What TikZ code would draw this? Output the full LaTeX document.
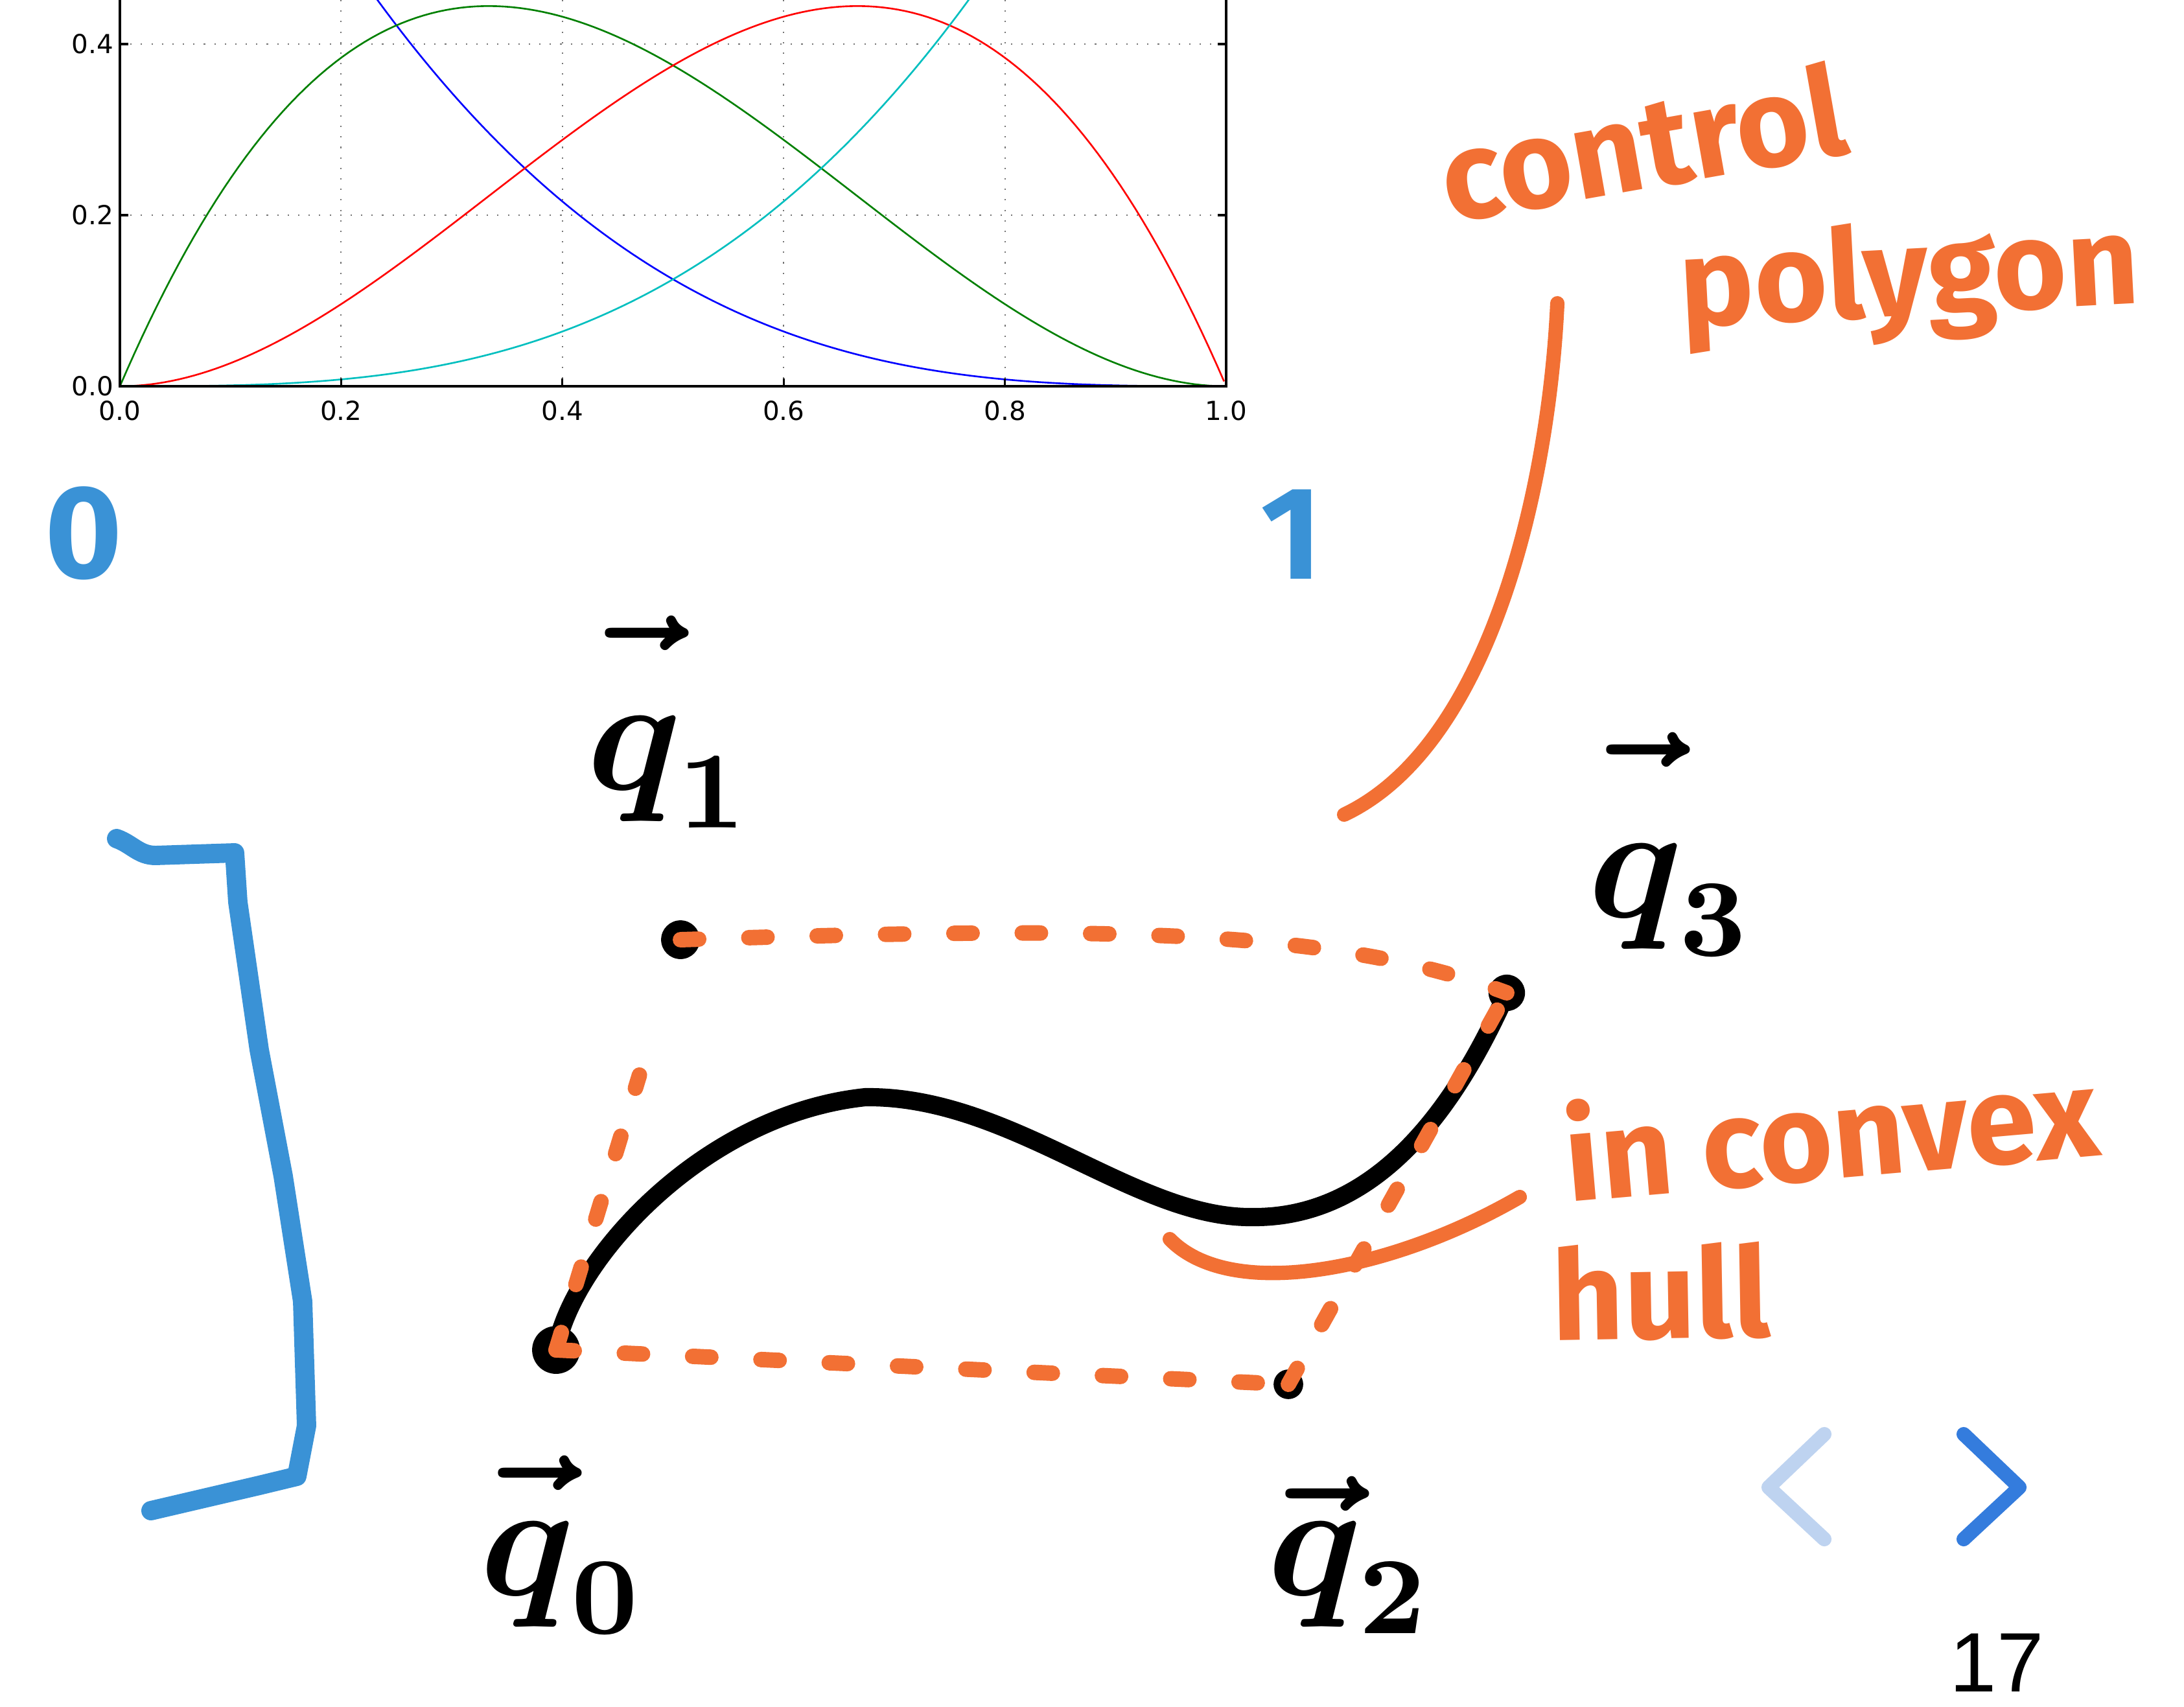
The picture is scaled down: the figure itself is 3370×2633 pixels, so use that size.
\documentclass[tikz,border=0pt]{standalone}
\usepackage{fontspec}
\usetikzlibrary{calc}
\newfontfamily\plotfont{DejaVu Sans}
\newfontfamily\handfont{Fira Sans}
\newfontfamily\pagefont{Liberation Sans}
% #1: extra lift of the vector arrow (unscaled), #2: subscript
\newcommand\qlab[2]{\scalebox{6}{\fontsize{12}{14}\selectfont\boldmath$\vec{\rule{0pt}{\dimexpr\fontdimen5\textfont1+#1\relax}q}_{\mkern-0.5mu #2}$}}
\definecolor{hOrange}{RGB}{242,112,52}
\definecolor{hBlue}{RGB}{58,146,214}
\definecolor{navLight}{RGB}{190,211,240}
\definecolor{navDark}{RGB}{52,124,221}
\definecolor{mplGreen}{RGB}{0,128,0}
\definecolor{mplCyan}{RGB}{0,191,191}
\tikzset{
 gridline/.style={draw=black!55, line width=0.6pt, dash pattern=on 0.6pt off 4pt},
 plotline/.style={line width=0.75pt},
 axisline/.style={line width=0.9pt, draw=black},
 ticklabel/.style={font=\plotfont\fontsize{11.5}{13}\selectfont, inner sep=0pt},
 inkblack/.style={line width=8pt, line cap=round, line join=round, draw=black},
 ctrldash/.style={draw=hOrange, line width=6.8pt, line cap=round, dash pattern=on 8pt off 22pt},
 leader/.style={draw=hOrange, line width=6.3pt, line cap=round},
 bluestroke/.style={draw=hBlue, line width=8.5pt, line cap=round, line join=round},
 ctrldot/.style={circle, fill=black, inner sep=0pt},
 qlabel/.style={inner sep=0pt},
 handtext/.style={font=\handfont\bfseries\fontsize{55}{60}\selectfont, text=hOrange, inner sep=0pt},
 bluetext/.style={font=\handfont\bfseries\fontsize{58}{64}\selectfont, text=hBlue, inner sep=0pt},
 navstroke/.style={line width=6.3pt, line cap=round, line join=round},
 pagenum/.style={font=\pagefont\fontsize{37}{42}\selectfont, inner sep=0pt}
}
\begin{document}
\begin{tikzpicture}[x=0.01cm,y=-0.01cm]
\useasboundingbox (0,0) rectangle (3370,2633);
\fill[white] (0,0) rectangle (3370,2633);

% ---------- plot ----------
\foreach \i in {1,2,3,4} \draw[gridline] ({185+341.4*\i},0) -- ({185+341.4*\i},596);
\foreach \i in {1,2} \draw[gridline] (185,{596-264*\i}) -- (1892,{596-264*\i});
\begin{scope}
\clip (185,0) rectangle (1892,596);
\draw[plotline, blue, domain=0:1, samples=150] plot ({185+1707*\x},{596-1320*(1-\x)*(1-\x)*(1-\x)});
\draw[plotline, mplGreen, domain=0:1, samples=150] plot ({185+1707*\x},{596-1320*3*\x*(1-\x)*(1-\x)});
\draw[plotline, red, domain=0:1, samples=150] plot ({185+1707*\x},{596-1320*3*\x*\x*(1-\x)});
\draw[plotline, mplCyan, domain=0:1, samples=150] plot ({185+1707*\x},{596-1320*\x*\x*\x});
\end{scope}
\draw[axisline] (185,0) -- (185,596) -- (1892,596) -- (1892,0);
\foreach \i in {1,2} {
  \draw[axisline] (185,{596-264*\i}) -- (198,{596-264*\i});
  \draw[axisline] (1892,{596-264*\i}) -- (1879,{596-264*\i});
}
\foreach \i in {1,2,3,4} \draw[axisline] ({185+341.4*\i},596) -- ({185+341.4*\i},584);
\foreach \i/\l in {0/0.0,1/0.2,2/0.4} \node[ticklabel, anchor=east] (yl\i) at (176,{596-264*\i}) {\l};
\foreach \i/\l in {0/0.0,1/0.2,2/0.4,3/0.6,4/0.8,5/1.0} \node[ticklabel] (xl\i) at ({185+341.4*\i},634) {\l};

% ---------- blue marks ----------
\node[bluetext] (zero) at (129,823) {0};
\node[bluetext] (one) at (1993,825) {1};
\draw[bluestroke] (180,1294) to[out=-20,in=180] (240,1320) -- (362,1316) -- (367,1392) -- (400,1620) -- (437,1815) -- (467,2008) -- (473,2200) -- (458,2278) -- (400,2292) -- (233,2331);

% ---------- curve and control points ----------
\node[ctrldot, minimum size=21pt] (q0) at (858,2083) {};
\node[ctrldot, minimum size=17pt] (q1) at (1050,1450) {};
\node[ctrldot, minimum size=13pt] (q2) at (1988,2136) {};
\node[ctrldot, minimum size=16pt] (q3) at (2325,1532) {};
\coordinate (crest) at (1335,1693);
\coordinate (trough) at (1932,1878);
\draw[inkblack] (q0.center) .. controls (880,1950) and (1080,1720) .. (crest)
  .. controls (1560,1690) and (1750,1880) .. (trough)
  .. controls (2130,1880) and (2250,1700) .. (q3.center);

\coordinate (q01) at ($(q0)!0.67!(q1)$);
\draw[ctrldash] (q0.center) -- (q01);
\draw[ctrldash] (q0.center) -- (q2.center);
\draw[ctrldash] (q1.center) .. controls (1700,1430) and (2050,1430) .. (q3.center);
\draw[ctrldash] (q2.center) -- (q3.center);

% ---------- labels ----------
\node[qlabel, anchor=base west] (lq0) at (740,2461) {\qlab{1.5pt}{0}};
\node[qlabel, anchor=base west] (lq1) at (905,1218) {\qlab{4pt}{1}};
\node[qlabel, anchor=base west] (lq2) at (1955,2461) {\qlab{0pt}{2}};
\node[qlabel, anchor=base west] (lq3) at (2450,1415) {\qlab{4.8pt}{3}};

% ---------- orange annotations ----------
\node[handtext, anchor=base west, rotate=10] (tcontrol) at (2236,345) {control};
\node[handtext, anchor=base west, rotate=3] (tpolygon) at (2594,505) {polygon};
\coordinate (cpTop) at (2403,468);
\coordinate (cpEnd) at (2074,1257);
\draw[leader] (cpTop) .. controls (2390,750) and (2300,1150) .. (cpEnd);

\node[handtext, anchor=base west, rotate=5] (tconvex) at (2420,1855) {in convex};
\node[handtext, anchor=base west, rotate=1] (thull) at (2395,2068) {hull};
\coordinate (ichTop) at (2345,1847);
\coordinate (ichEnd) at (1805,1912);
\draw[leader] (ichTop) .. controls (2150,1960) and (1900,2010) .. (ichEnd);

% ---------- navigation ----------
\draw[navstroke, navLight] (2815,2213) -- (2729,2295) -- (2815,2375);
\draw[navstroke, navDark] (3030,2213) -- (3116,2295) -- (3030,2375);
\node[pagenum] (pnum) at (3081,2566) {17};
\end{tikzpicture}
\end{document}
